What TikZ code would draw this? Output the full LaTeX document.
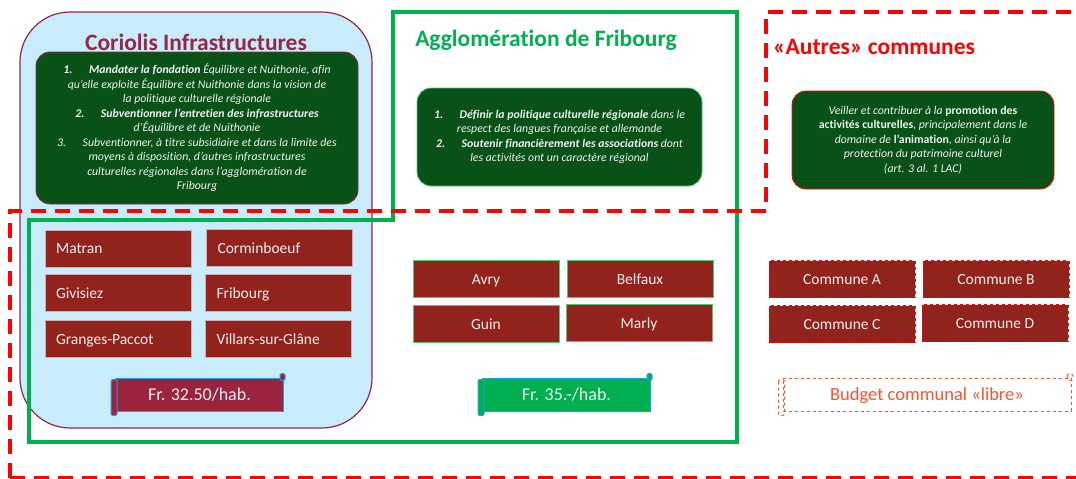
\documentclass[tikz,border=0pt]{standalone}
\usepackage{fontspec}
\setmainfont{Carlito}[Ligatures=NoCommon]
\definecolor{lblue}{RGB}{200,236,251}
\definecolor{maroon}{RGB}{150,40,70}
\definecolor{dgreen}{RGB}{8,82,24}
\definecolor{brick}{RGB}{146,35,28}
\definecolor{agreen}{RGB}{0,176,80}
\definecolor{lgreen}{RGB}{80,200,120}
\definecolor{scrollred}{RGB}{154,35,62}
\definecolor{sblue}{RGB}{30,160,220}
\definecolor{bred}{RGB}{255,80,50}
\definecolor{txt}{RGB}{240,240,240}
\tikzset{
  commune/.style={fill=brick, text=txt, minimum width=146pt, minimum height=37pt, inner sep=0pt, text height=11pt, text depth=1pt, font=\fontsize{15.5}{18}\selectfont},
  clbox/.style={commune, draw=maroon!40, line width=0.6pt, text width=124pt, align=left, inner xsep=11pt},
  agbox/.style={commune, draw=lgreen, line width=0.8pt, align=center},
  aubox/.style={commune, draw=red, dashed, line width=0.8pt, align=center},
  scrollbox/.style={draw=sblue, line width=1pt, text=txt, minimum width=168pt, minimum height=33pt, inner sep=0pt, text height=13pt, text depth=1.5pt, font=\fontsize{18}{20}\selectfont},
  roll/.style={draw=sblue, line width=1pt, rounded corners=2pt},
  infobox/.style={fill=dgreen, rounded corners=14pt, text=txt, align=center, inner sep=0pt, font=\fontsize{11.8}{14.5}\selectfont\itshape},
  title/.style={font=\fontsize{23.5}{26}\selectfont\bfseries, inner sep=0pt},
  greenline/.style={draw=agreen, line width=3.5pt},
  redline/.style={draw=red, line width=4pt, dash pattern=on 15pt off 9pt},
}
\begin{document}
\begin{tikzpicture}[x=1pt,y=-1pt]
\useasboundingbox (0,0) rectangle (1076,479);
% Coriolis background
\draw[fill=lblue, draw=maroon, line width=1.2pt, rounded corners=50pt] (20,12) rectangle (372,428);
% Agglomeration frame
\draw[greenline] (29,220) -- (393,220) -- (393,12) -- (737,12) -- (737,442) -- (29,442) -- cycle;
% Autres frame
\draw[redline] (10,478) -- (10,211) -- (766,211) -- (766,12) -- (1080,12);
\draw[redline] (10,478) -- (1080,478);
% titles
\node[title, text=maroon] (t1) at (196,42) {Coriolis Infrastructures};
\node[title, text=agreen] (t2) at (546,40) {Agglomération de Fribourg};
\node[title, text=red] (t3) at (874,47) {«Autres» communes};
% info boxes
\node[infobox, draw=maroon, line width=0.8pt, minimum width=322pt, minimum height=152pt] (i1) at (197,128) {%
\textbf{1.\hspace{1.4em}Mandater la fondation} Équilibre et Nuithonie, afin\\
qu'elle exploite Équilibre et Nuithonie dans la vision de\\
la politique culturelle régionale\\
\textbf{2.\hspace{1.4em}Subventionner l'entretien des infrastructures}\\
d'Équilibre et de Nuithonie\\
3.\hspace{1.4em}Subventionner, à titre subsidiaire et dans la limite des\\
moyens à disposition, d'autres infrastructures\\
culturelles régionales dans l'agglomération de\\
Fribourg};
\node[infobox, draw=lgreen, line width=0.8pt, minimum width=285pt, minimum height=98pt] (i2) at (559.5,137) {%
\textbf{1.\hspace{1.4em}Définir la politique culturelle régionale} dans le\\
respect des langues française et allemande\\
\textbf{2.\hspace{1.4em}Soutenir financièrement les associations} dont\\
les activités ont un caractère régional};
\node[infobox, draw=red, line width=0.8pt, minimum width=262pt, minimum height=98pt] (i3) at (923,140) {%
Veiller et contribuer à la \textbf{\upshape promotion des}\\
\textbf{\upshape activités culturelles}, principalement dans le\\
domaine de \textbf{\upshape l'animation}, ainsi qu'à la\\
protection du patrimoine culturel\\
(art. 3 al. 1 LAC)};
% Coriolis communes
\node[clbox] (matran) at (118,248.5) {Matran};
\node[clbox] (cormin) at (279.5,248) {Corminboeuf};
\node[clbox] (givis) at (118,293) {Givisiez};
\node[clbox] (fribourg) at (278.5,293) {Fribourg};
\node[clbox] (granges) at (118,339) {Granges-Paccot};
\node[clbox] (villars) at (278.5,339) {Villars-sur-Glâne};
% Agglo communes
\node[agbox] (avry) at (486,279) {Avry};
\node[agbox] (belfaux) at (640,279) {Belfaux};
\node[agbox] (guin) at (486,324) {Guin};
\node[agbox] (marly) at (639,323) {Marly};
% Autres communes
\node[aubox] (ca) at (842,279) {Commune A};
\node[aubox] (cb) at (996,279) {Commune B};
\node[aubox] (cc) at (842,324) {Commune C};
\node[aubox] (cd) at (995,323) {Commune D};
% scrolls
\node[scrollbox, fill=scrollred] (s1) at (199.5,394.5) {Fr. 32.50/hab.};
\draw[roll, fill=scrollred] ([shift={(-4pt,-2pt)}]s1.north west) rectangle ([shift={(2pt,-4pt)}]s1.south west);
\draw[roll, fill=scrollred] ([shift={(-4pt,4pt)}]s1.north east) rectangle ([shift={(1pt,-3pt)}]s1.north east);
\node[scrollbox, fill=agreen] (s2) at (566.5,394.5) {Fr. 35.-/hab.};
\draw[roll, fill=agreen] ([shift={(-4pt,-2pt)}]s2.north west) rectangle ([shift={(2pt,-4pt)}]s2.south west);
\draw[roll, fill=agreen] ([shift={(-4pt,4pt)}]s2.north east) rectangle ([shift={(1pt,-3pt)}]s2.north east);
\node[scrollbox, draw=bred, dashed, text=bred, minimum width=288pt, font=\fontsize{18.5}{20}\selectfont] (s3) at (927,394.5) {Budget communal «libre»};
\draw[roll, draw=bred, dashed] ([shift={(-4pt,-2pt)}]s3.north west) rectangle ([shift={(2pt,-4pt)}]s3.south west);
\draw[roll, draw=bred, dashed] ([shift={(-4pt,4pt)}]s3.north east) rectangle ([shift={(1pt,-3pt)}]s3.north east);
\end{tikzpicture}
\end{document}
